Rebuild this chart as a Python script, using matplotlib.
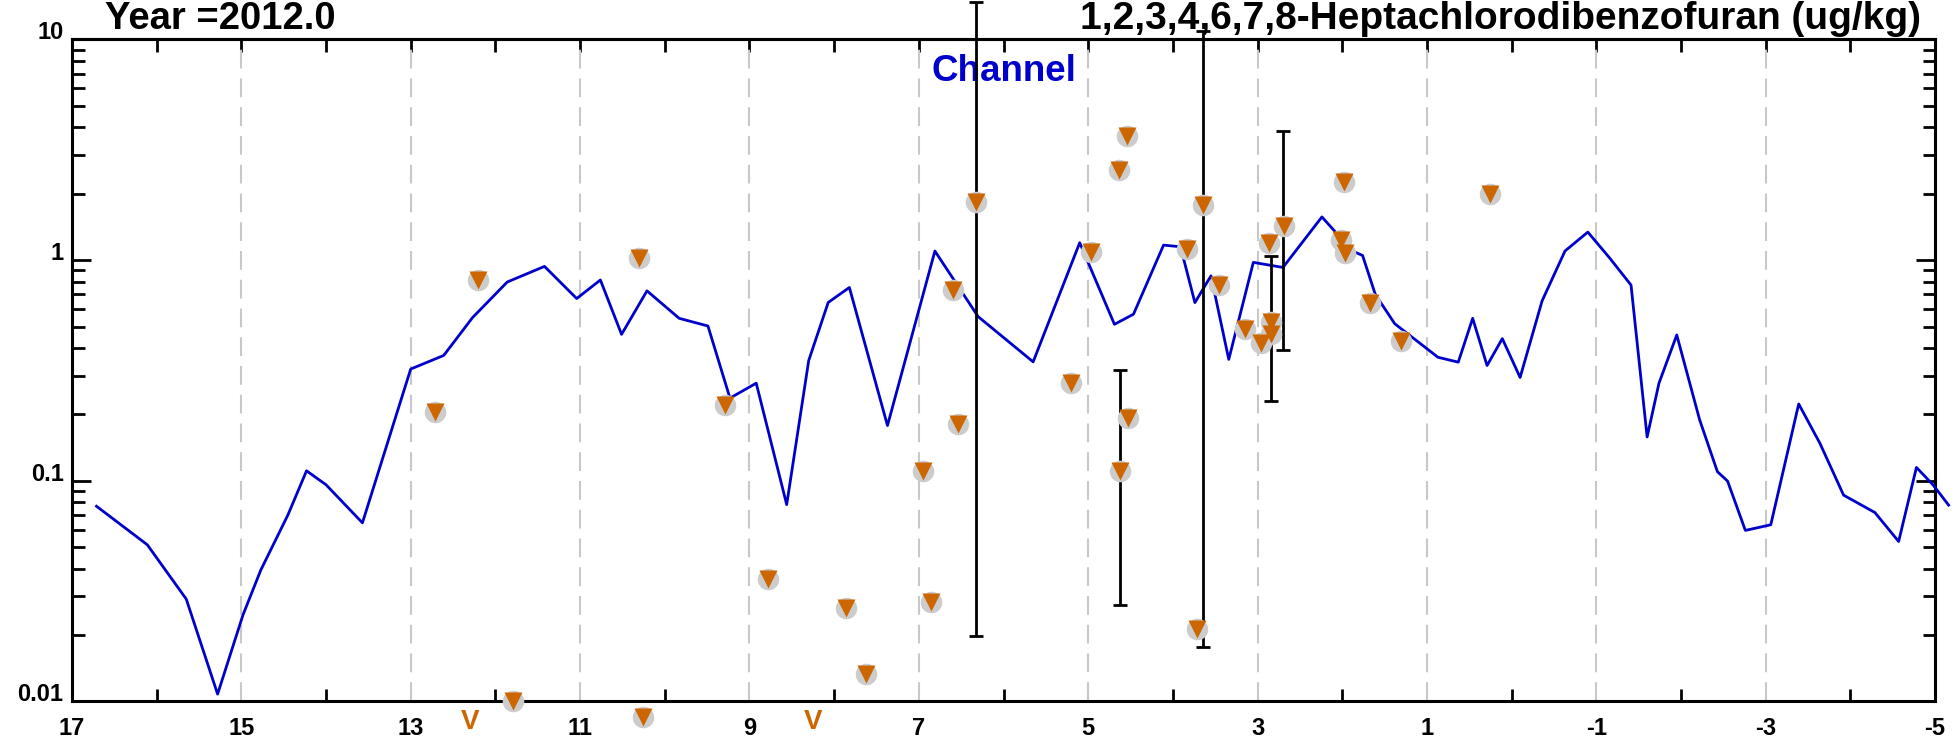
import numpy as np
import matplotlib
matplotlib.use('Agg')
import matplotlib.pyplot as plt
import matplotlib.transforms as mtransforms
from matplotlib.ticker import FixedLocator, NullFormatter, NullLocator

plt.rcParams['font.family'] = ['Liberation Sans', 'DejaVu Sans']
plt.rcParams['font.weight'] = 'bold'
plt.rcParams['axes.unicode_minus'] = False

year_label = 'Year =2012.0'
chem_label = '1,2,3,4,6,7,8-Heptachlorodibenzofuran (ug/kg)'
channel_label = 'Channel'

# modelled channel concentration along the river
channel_mile = [16.71, 16.11, 15.65, 15.28, 14.98, 14.77, 14.45, 14.23, 14.00, 13.57,
                13.00, 12.61, 12.27, 11.86, 11.42, 11.04, 10.76, 10.51, 10.21, 9.83,
                9.49, 9.23, 8.92, 8.56, 8.30, 8.07, 7.82, 7.37, 6.81, 6.30,
                5.65, 5.10, 4.69, 4.465, 4.11, 3.91, 3.74, 3.55, 3.34, 3.05,
                2.70, 2.24, 1.88, 1.76, 1.61, 1.38, 0.87, 0.63, 0.46, 0.29,
                0.11, -0.10, -0.36, -0.63, -0.90, -1.16, -1.41, -1.60, -1.74, -1.95,
                -2.22, -2.43, -2.55, -2.76, -3.06, -3.39, -3.64, -3.92, -4.29, -4.57,
                -4.78, -4.98, -5.16]
channel_conc = [0.0767, 0.0513, 0.0291, 0.0108, 0.0247, 0.0394, 0.070, 0.111, 0.096, 0.0645,
                0.321, 0.370, 0.549, 0.796, 0.937, 0.670, 0.813, 0.461, 0.726, 0.545,
                0.503, 0.237, 0.277, 0.078, 0.351, 0.643, 0.752, 0.178, 1.10, 0.555,
                0.346, 1.20, 0.512, 0.569, 1.17, 1.15, 0.642, 0.849, 0.355, 0.977,
                0.927, 1.57, 1.10, 1.05, 0.70, 0.515, 0.363, 0.345, 0.545, 0.333,
                0.441, 0.294, 0.654, 1.10, 1.34, 1.02, 0.771, 0.158, 0.277, 0.458,
                0.189, 0.110, 0.0997, 0.0596, 0.0632, 0.223, 0.148, 0.0861, 0.0718, 0.0531,
                0.115, 0.0955, 0.0776]

# sediment samples
sample_mile = [12.71, 12.21, 11.79, 10.31, 10.26, 9.29, 8.78, 7.86, 7.62, 6.95,
               6.86, 6.60, 6.54, 6.33, 5.20, 4.97, 4.63, 4.64, 4.54, 4.53,
               3.83, 3.71, 3.64, 3.45, 3.15, 2.96, 2.86, 2.84, 2.84, 2.69,
               1.98, 2.02, 1.97, 1.67, 1.31, 0.25]
sample_conc = [0.204, 0.815, 0.0101, 1.02, 0.0085, 0.22, 0.0359, 0.0264, 0.0133, 0.111,
               0.0283, 0.735, 0.181, 1.83, 0.277, 1.09, 0.111, 2.57, 3.65, 0.192,
               1.12, 0.0212, 1.77, 0.77, 0.486, 0.423, 1.20, 0.526, 0.461, 1.43,
               2.26, 1.24, 1.08, 0.642, 0.43, 1.99]

# sample ranges
range_mile = [6.33, 4.63, 3.65, 2.84, 2.70]
range_low = [0.0198, 0.0273, 0.0177, 0.231, 0.390]
range_high = [14.8, 0.319, 10.9, 1.04, 3.86]

# samples below the plotted range
offscale_mile = [12.30, 8.25]

x_ticks = list(range(17, -6, -2))
x_ticklabels = [str(v) for v in x_ticks]
x_minor = list(range(16, -5, -2))
top_ticks = list(range(17, -6, -1))
y_ticks = [0.01, 0.1, 1, 10]
y_ticklabels = ['0.01', '0.1', '1', '10']

blue = '#0000CC'
orange = '#CC6600'

fig = plt.figure(figsize=(19.55, 7.48), dpi=100)
ax = fig.add_axes([0.0368, 0.0622, 0.9530, 0.885])
ax.set_yscale('log')
ax.set_xlim(17, -5)
ax.set_ylim(0.01, 10)

ax.set_xticks(x_ticks)
ax.set_xticklabels(x_ticklabels)
ax.xaxis.set_minor_locator(FixedLocator(x_minor))
ax.set_yticks(y_ticks)
ax.set_yticklabels(y_ticklabels)
ax.yaxis.set_minor_formatter(NullFormatter())

ax.grid(axis='x', which='major', color='#c8c8c8', lw=1.5, linestyle=(0, (9, 4.8)))
ax.set_axisbelow(True)

ax.tick_params(axis='x', which='major', direction='in', length=0, pad=11,
               labelsize=17, top=False)
ax.tick_params(axis='x', which='minor', direction='in', length=9, width=2, top=False)
ax.tick_params(axis='y', which='major', direction='in', length=14, width=2,
               left=True, right=True, pad=6, labelsize=17)
ax.tick_params(axis='y', which='minor', direction='in', length=9, width=2,
               left=True, right=True)
for t in ax.yaxis.get_major_ticks():
    t.label1.set_verticalalignment('baseline')

for s in ax.spines.values():
    s.set_linewidth(2.2)

top = ax.secondary_xaxis('top')
top.set_xticks(top_ticks)
top.xaxis.set_minor_locator(NullLocator())
top.tick_params(direction='in', length=9, width=2, labeltop=False)
top.spines['top'].set_linewidth(2.2)

ax.plot(channel_mile, channel_conc, color=blue, lw=2.0, clip_on=False, zorder=3)

eb = ax.errorbar(range_mile, range_low,
                 yerr=[np.zeros(len(range_low)), np.array(range_high) - np.array(range_low)],
                 fmt='none', ecolor='black', elinewidth=2.0, capsize=5, capthick=2.0, zorder=4)
for a in eb.get_children():
    a.set_clip_on(False)

ax.plot(sample_mile, sample_conc, 'o', ms=15.5, color='#cccccc', mec='none',
        clip_on=False, zorder=5)
ax.plot(sample_mile, sample_conc, 'v', ms=13, color=orange, mec='none',
        clip_on=False, zorder=6)

trans = mtransforms.blended_transform_factory(ax.transData, ax.transAxes)
for xm in offscale_mile:
    ax.text(xm, -0.031, 'V', transform=trans, ha='center', va='center',
            color=orange, fontsize=20, fontweight='bold', clip_on=False)

ax.text(0.5, 0.937, channel_label, transform=ax.transAxes, ha='center', va='baseline',
        color=blue, fontsize=26.5, fontweight='bold')

fig.text(0.0537, 0.9612, year_label, ha='left', va='baseline', fontsize=27.5, fontweight='bold')
fig.text(0.9826, 0.9612, chem_label, ha='right', va='baseline', fontsize=28, fontweight='bold')

fig.savefig('out.png', dpi=100)
